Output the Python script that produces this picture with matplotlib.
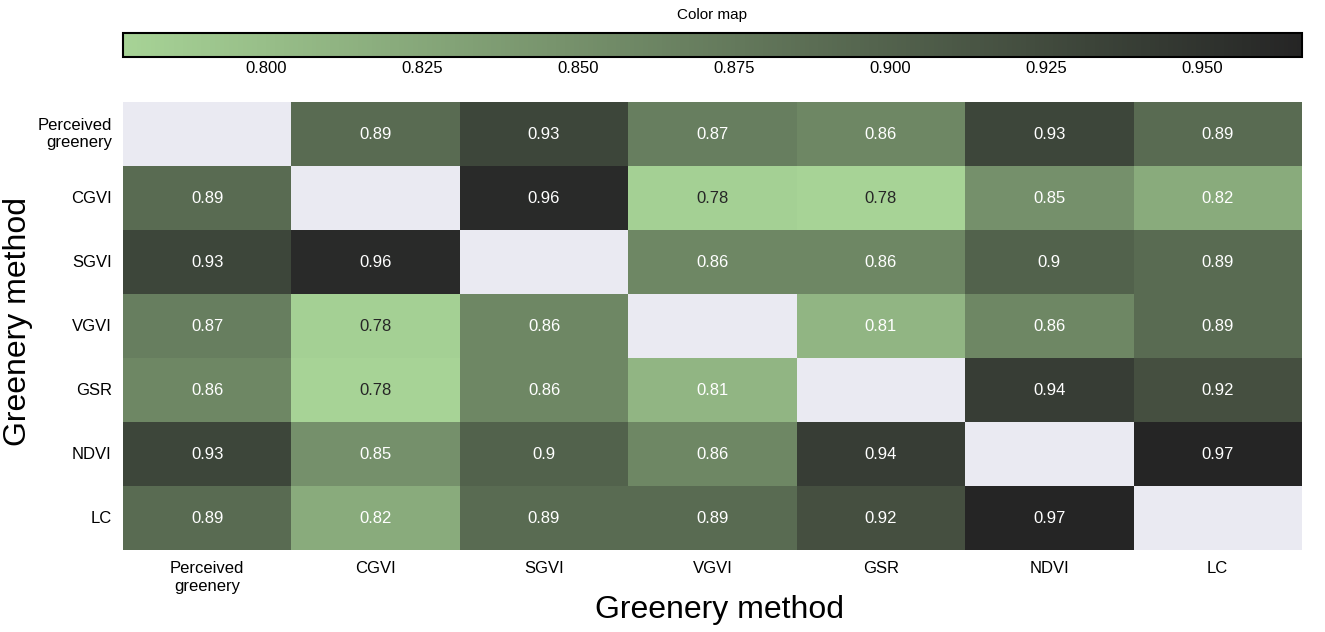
import numpy as np
import pandas as pd
import matplotlib
matplotlib.use("Agg")
import matplotlib.pyplot as plt
import seaborn as sns
from matplotlib.colors import LinearSegmentedColormap

plt.rcParams['font.family'] = ['Liberation Sans', 'DejaVu Sans']

methods = ['Perceived\ngreenery', 'CGVI', 'SGVI', 'VGVI', 'GSR', 'NDVI', 'LC']

# correlation matrix (diagonal is masked out)
corr_values = [
    [1.00, 0.89, 0.93, 0.87, 0.86, 0.93, 0.89],
    [0.89, 1.00, 0.96, 0.781, 0.777, 0.85, 0.82],
    [0.93, 0.96, 1.00, 0.86, 0.86, 0.90, 0.89],
    [0.87, 0.781, 0.86, 1.00, 0.81, 0.86, 0.89],
    [0.86, 0.777, 0.86, 0.81, 1.00, 0.94, 0.92],
    [0.93, 0.85, 0.90, 0.86, 0.94, 1.00, 0.966],
    [0.89, 0.82, 0.89, 0.89, 0.92, 0.966, 1.00],
]
cbar_ticks = [0.800, 0.825, 0.850, 0.875, 0.900, 0.925, 0.950]

df = pd.DataFrame(corr_values, index=methods, columns=methods)
mask = np.eye(len(methods), dtype=bool)

cmap = LinearSegmentedColormap.from_list('greens_dark', ['#a7d396', '#252525'])

fig = plt.figure(figsize=(13.25, 6.32), dpi=100)
ax = fig.add_axes([0.0928, 0.1297, 0.8898, 0.7089])
cax = fig.add_axes([0.0928, 0.9098, 0.8898, 0.038])
ax.set_facecolor('#eaeaf2')

sns.heatmap(df, mask=mask, cmap=cmap, vmin=0.777, vmax=0.966,
            annot=True, fmt='.2g', annot_kws={'fontsize': 12},
            ax=ax, cbar_ax=cax,
            cbar_kws={'orientation': 'horizontal', 'ticks': cbar_ticks,
                      'format': '%.3f'})

ax.set_xlabel('Greenery method', fontsize=23)
ax.set_ylabel('Greenery method', fontsize=23)
ax.xaxis.set_label_coords(0.506, -0.1)
ax.yaxis.set_label_coords(-0.076, 0.51)
ax.tick_params(axis='both', length=0, labelsize=12, pad=8)
ax.set_xticklabels(methods, rotation=0, ha='center')
ax.set_yticklabels(methods, rotation=0, va='center', multialignment='right')

cax.set_title('Color map', fontsize=11, pad=10)
cax.tick_params(length=0, labelsize=12, pad=3)
cbar = ax.collections[0].colorbar
cbar.outline.set_edgecolor('black')
cbar.outline.set_linewidth(1.5)

fig.savefig('out.png', dpi=100)
